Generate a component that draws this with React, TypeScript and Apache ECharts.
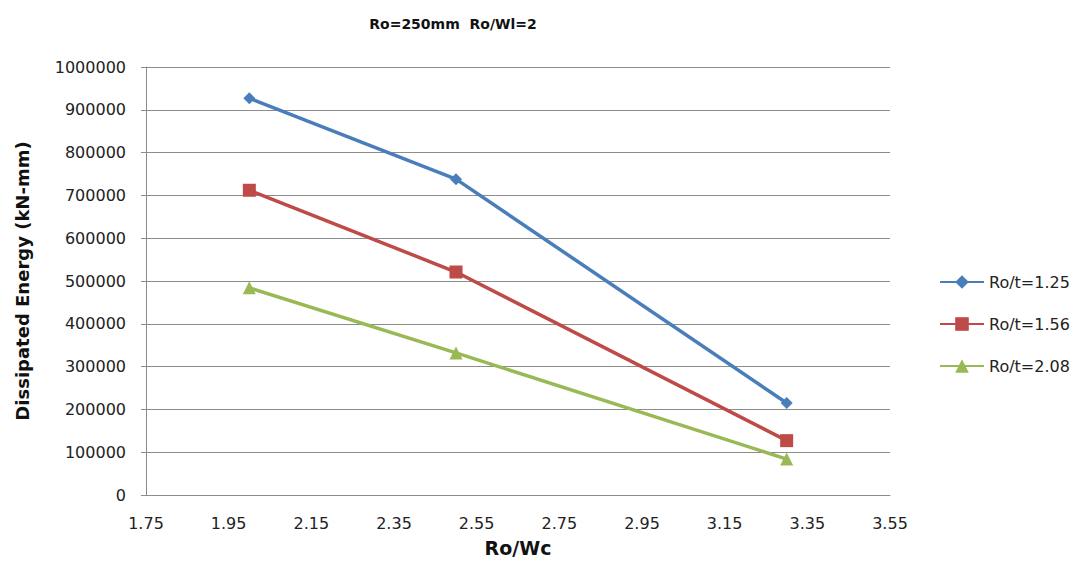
import React, { useEffect, useRef } from "react";
import * as echarts from "echarts";

const titleText = "Ro=250mm  Ro/Wl=2";
const xName = "Ro/Wc";
const yName = "Dissipated Energy (kN-mm)";
const xTicks = [1.75, 1.95, 2.15, 2.35, 2.55, 2.75, 2.95, 3.15, 3.35, 3.55];
const xValues = [2.0, 2.5, 3.3];
const seriesNames = ["Ro/t=1.25", "Ro/t=1.56", "Ro/t=2.08"];
const s125 = [927000, 738000, 215000];
const s156 = [712000, 521000, 127000];
const s208 = [484000, 332000, 84000];
const colors = ["#4A7EBB", "#BE4B48", "#98B954"];
const symbols = ["diamond", "rect", "triangle"];
const symbolSizes = [12, 13, 13];

const FONT = "'DejaVu Sans', sans-serif";

export default function App() {
  const ref = useRef<HTMLDivElement>(null);
  useEffect(() => {
    if (!ref.current) return;
    document.body.style.margin = "0";
    document.body.style.overflow = "hidden";
    const chart = echarts.init(ref.current, null, { renderer: "svg" });
    const all = [s125, s156, s208];
    chart.setOption({
      animation: false,
      backgroundColor: "#ffffff",
      textStyle: { fontFamily: FONT },
      title: {
        text: titleText,
        left: 453,
        textAlign: "center",
        top: 17,
        padding: 0,
        textStyle: { fontFamily: FONT, fontSize: 14, fontWeight: "bold", color: "#111" },
      },
      grid: { left: 146, top: 67, width: 744, height: 428, containLabel: false },
      legend: {
        orient: "vertical",
        left: 939,
        top: 274,
        padding: 0,
        itemWidth: 44,
        itemHeight: 17,
        itemGap: 26,
        textStyle: { fontFamily: FONT, fontSize: 16, color: "#222" },
        data: seriesNames,
      },
      xAxis: {
        type: "value",
        min: xTicks[0],
        max: xTicks[xTicks.length - 1],
        name: xName,
        nameLocation: "middle",
        nameGap: 43,
        nameTextStyle: { fontFamily: FONT, fontSize: 19, fontWeight: "bold", color: "#111" },
        axisLine: { show: true, lineStyle: { color: "#8c8c8c", width: 1 } },
        axisTick: { show: false, customValues: xTicks },
        splitLine: { show: false },
        axisLabel: {
          customValues: xTicks,
          margin: 20,
          fontFamily: FONT,
          fontSize: 16,
          color: "#222",
          formatter: (v: number) => v.toFixed(2),
        },
      },
      yAxis: {
        type: "value",
        min: 0,
        max: 1000000,
        interval: 100000,
        name: yName,
        nameLocation: "middle",
        nameGap: 115,
        nameTextStyle: { fontFamily: FONT, fontSize: 18, fontWeight: "bold", color: "#111" },
        axisLine: { show: true, lineStyle: { color: "#8c8c8c", width: 1 } },
        axisTick: { show: true, length: 5, lineStyle: { color: "#8c8c8c" } },
        splitLine: { show: true, lineStyle: { color: "#8c8c8c", width: 1 } },
        axisLabel: {
          margin: 20,
          fontFamily: FONT,
          fontSize: 16,
          color: "#222",
          formatter: (v: number) => String(v),
        },
      },
      series: seriesNames.map((name, i) => ({
        name,
        type: "line",
        data: xValues.map((x, j) => [x, all[i][j]]),
        symbol: symbols[i],
        symbolSize: symbolSizes[i],
        showSymbol: true,
        lineStyle: { color: colors[i], width: 3.5 },
        itemStyle: { color: colors[i] },
      })),
    });
    return () => chart.dispose();
  }, []);
  return <div ref={ref} style={{ width: 1074, height: 570 }} />;
}
